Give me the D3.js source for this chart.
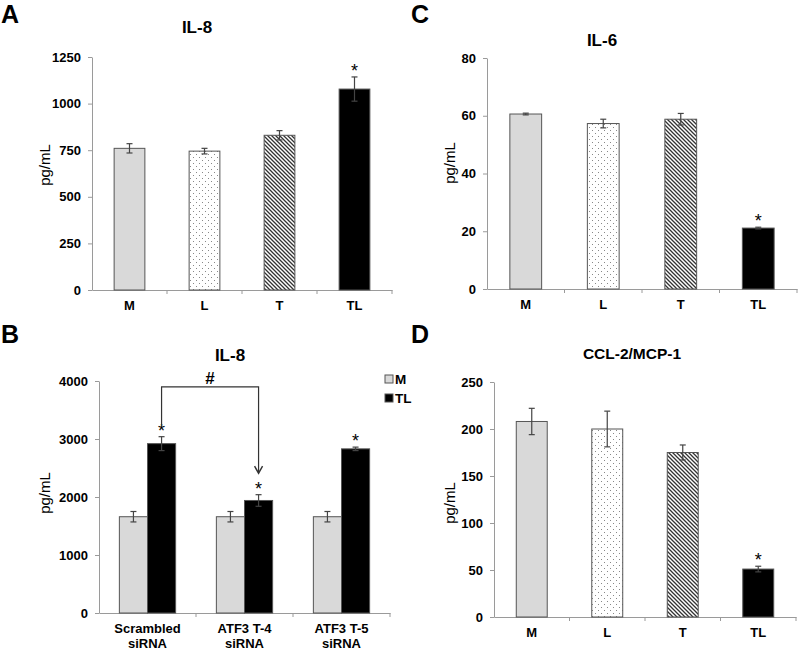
<!DOCTYPE html>
<html><head><meta charset="utf-8">
<script src="https://cdn.jsdelivr.net/npm/d3@7"></script>
<style>
body{margin:0;background:#fff;}
text{font-family:"Liberation Sans",Arial,sans-serif;}
</style></head>
<body><svg id="c" width="800" height="652"></svg>
<script>
// ---- data ----
const groups = ["M","L","T","TL"];
const il8A = [760,745,830,1078];
const il8AErr = [25,15,25,65];
const il8ATicks = [0,250,500,750,1000,1250];

const il6C = [60.6,57.3,58.8,21.1];
const il6CErr = [0.3,1.5,2.0,0.3];
const il6CTicks = [0,20,40,60,80];

const ccl2D = [208,200,175,51];
const ccl2DErr = [14,19,8,3];
const ccl2DTicks = [0,50,100,150,200,250];

const sirnaCats = [["Scrambled","siRNA"],["ATF3 T-4","siRNA"],["ATF3 T-5","siRNA"]];
const seriesB = ["M","TL"];
const bM = [1660,1660,1660];
const bMErr = [90,90,90];
const bTL = [2920,1940,2830];
const bTLErr = [120,100,30];
const il8BTicks = [0,1000,2000,3000,4000];
const bracketB = {top:3900, start:3230, end:2410};

const starsA = [false,false,false,true];
const starsC = [false,false,false,true];
const starsD = [false,false,false,true];
const starsBTL = [true,true,true];

// ---- drawing ----
const svg = d3.select("#c");
const defs = svg.append("defs");
const dots = defs.append("pattern").attr("id","dots").attr("patternUnits","userSpaceOnUse")
  .attr("width",6).attr("height",6);
dots.append("rect").attr("width",6).attr("height",6).attr("fill","#fff");
dots.append("rect").attr("x",1).attr("y",1).attr("width",1).attr("height",1).attr("fill","#888");
dots.append("rect").attr("x",4).attr("y",4).attr("width",1).attr("height",1).attr("fill","#888");
const hatch = defs.append("pattern").attr("id","hatch").attr("patternUnits","userSpaceOnUse")
  .attr("width",4).attr("height",4);
hatch.append("rect").attr("width",4).attr("height",4).attr("fill","#fff");
hatch.append("path").attr("d","M-1,-1 L5,5 M-1,3 L1,5 M3,-1 L5,1").attr("stroke","#333").attr("stroke-width",1.3);
const fills = {M:"#d9d9d9", L:"url(#dots)", T:"url(#hatch)", TL:"#000"};
const AX = "#9a9a9a";
const FS = 13;

function styleYAxis(g){
  g.select(".domain").attr("stroke",AX);
  g.selectAll(".tick line").attr("stroke",AX);
  g.selectAll(".tick text").attr("font-size",FS).attr("font-weight","bold").attr("fill","#000")
   .style("font-family",'"Liberation Sans",Arial,sans-serif');
}

function errBar(g, cx, top, bot){
  g.append("line").attr("x1",cx).attr("x2",cx).attr("y1",top).attr("y2",bot).attr("stroke","#444").attr("stroke-width",1.2);
  g.append("line").attr("x1",cx-3).attr("x2",cx+3).attr("y1",top).attr("y2",top).attr("stroke","#444").attr("stroke-width",1.2);
  g.append("line").attr("x1",cx-3).attr("x2",cx+3).attr("y1",bot).attr("y2",bot).attr("stroke","#444").attr("stroke-width",1.2);
}
function star(g,cx,y){
  g.append("text").attr("x",cx).attr("y",y).attr("text-anchor","middle").attr("font-size",18).text("*");
}

function panel(o){
  const g = svg.append("g");
  const x = d3.scaleBand().domain(groups).range([o.x0,o.x1]).padding(0);
  const y = d3.scaleLinear().domain([0,o.ticks[o.ticks.length-1]]).range([o.y0,o.yTop]);
  g.append("g").attr("transform",`translate(${o.x0},0)`)
    .call(d3.axisLeft(y).tickValues(o.ticks).tickFormat(d3.format("d")).tickSize(4).tickPadding(7).tickSizeOuter(0))
    .call(styleYAxis);
  const xa = g.append("g").attr("transform",`translate(0,${o.y0})`)
    .call(d3.axisBottom(x).tickSize(0).tickPadding(11).tickSizeOuter(0));
  xa.select(".domain").attr("stroke",AX);
  xa.selectAll(".tick text").attr("font-size",FS).attr("font-weight","bold").attr("fill","#000");
  groups.slice(1).concat([null]).forEach(c=>{
    const bx = c? x(c) : o.x1;
    g.append("line").attr("x1",bx).attr("x2",bx).attr("y1",o.y0).attr("y2",o.y0+4).attr("stroke",AX);
  });
  const bw = x.bandwidth()*0.41;
  groups.forEach((c,i)=>{
    const cx = x(c)+x.bandwidth()/2;
    g.append("rect").attr("x",cx-bw/2).attr("y",y(o.vals[i])).attr("width",bw)
      .attr("height",y(0)-y(o.vals[i])).attr("fill",fills[c]).attr("stroke","#555").attr("stroke-width",1);
    const t = y(o.vals[i]+o.err[i]), b = y(o.vals[i]-o.err[i]);
    errBar(g,cx,t,b);
    if(o.stars[i]) star(g,cx,t);
  });
  g.append("text").attr("x",o.tx).attr("y",o.ty).attr("text-anchor","middle").attr("font-size",o.tfs).attr("font-weight","bold").text(o.title);
  g.append("text").attr("transform",`translate(${o.lx},${o.ly}) rotate(-90)`).attr("text-anchor","middle").attr("font-size",15).text("pg/mL");
  g.append("text").attr("x",o.px).attr("y",o.py).attr("font-size",25).attr("font-weight","bold").text(o.letter);
}

panel({x0:92,x1:392,y0:290,yTop:57,ticks:il8ATicks,vals:il8A,err:il8AErr,stars:starsA,
  title:"IL-8",tfs:17,tx:197,ty:33,lx:50,ly:165,letter:"A",px:1,py:23});
panel({x0:487,x1:797,y0:289,yTop:58,ticks:il6CTicks,vals:il6C,err:il6CErr,stars:starsC,
  title:"IL-6",tfs:17,tx:602,ty:46,lx:455,ly:163,letter:"C",px:411,py:23});
panel({x0:494,x1:796,y0:617,yTop:382,ticks:ccl2DTicks,vals:ccl2D,err:ccl2DErr,stars:starsD,
  title:"CCL-2/MCP-1",tfs:15.5,tx:632,ty:359,lx:455,ly:503,letter:"D",px:411,py:343});

// ---- panel B ----
(function(){
  const g = svg.append("g");
  const x0=99,x1=390,yb=613,yt=381;
  const cats = sirnaCats.map(d=>d.join(" "));
  const x = d3.scaleBand().domain(cats).range([x0,x1]).padding(0);
  const xs = d3.scaleBand().domain(seriesB).range([x.bandwidth()*0.21,x.bandwidth()*0.79]).padding(0);
  const y = d3.scaleLinear().domain([0,4000]).range([yb,yt]);
  g.append("g").attr("transform",`translate(${x0},0)`)
    .call(d3.axisLeft(y).tickValues(il8BTicks).tickFormat(d3.format("d")).tickSize(4).tickPadding(7).tickSizeOuter(0))
    .call(styleYAxis);
  const xa = g.append("g").attr("transform",`translate(0,${yb})`)
    .call(d3.axisBottom(x).tickSize(0).tickPadding(11).tickSizeOuter(0));
  xa.select(".domain").attr("stroke",AX);
  xa.selectAll(".tick text").each(function(d,i){
    const t = d3.select(this).text(null).attr("font-size",FS).attr("font-weight","bold").attr("fill","#000");
    sirnaCats[i].forEach((s,k)=>t.append("tspan").attr("x",0).attr("dy",k?"1.15em":"0.71em").text(s));
  });
  cats.slice(1).concat([null]).forEach(c=>{
    const bx = c? x(c) : x1;
    g.append("line").attr("x1",bx).attr("x2",bx).attr("y1",yb).attr("y2",yb+4).attr("stroke",AX);
  });
  const sets = {M:[bM,bMErr],TL:[bTL,bTLErr]};
  cats.forEach((c,i)=>{
    seriesB.forEach(s=>{
      const v = sets[s][0][i], e = sets[s][1][i];
      const bx = x(c)+xs(s);
      g.append("rect").attr("x",bx).attr("y",y(v)).attr("width",xs.bandwidth()).attr("height",y(0)-y(v))
        .attr("fill",fills[s]).attr("stroke","#555").attr("stroke-width",1);
      const cx = bx+xs.bandwidth()/2;
      errBar(g,cx,y(v+e),y(v-e));
      if(s==="TL" && starsBTL[i]) star(g,cx,y(v+e));
    });
  });
  const ax = x(cats[0])+xs("TL")+xs.bandwidth()/2;
  const bx2 = x(cats[1])+xs("TL")+xs.bandwidth()/2;
  g.append("path").attr("d",`M${ax},${y(bracketB.start)} V${y(bracketB.top)} H${bx2} V${y(bracketB.end)}`)
    .attr("fill","none").attr("stroke","#333").attr("stroke-width",1.2);
  const ty = y(bracketB.end);
  g.append("path").attr("d",`M${bx2-4},${ty-7} L${bx2},${ty} L${bx2+4},${ty-7}`).attr("fill","none").attr("stroke","#333").attr("stroke-width",1.4);
  g.append("text").attr("x",(ax+bx2)/2).attr("y",y(bracketB.top)-3).attr("text-anchor","middle").attr("font-size",17).attr("font-weight","bold").text("#");
  seriesB.forEach((s,i)=>{
    const ly = 375 + i*19;
    g.append("rect").attr("x",385).attr("y",ly).attr("width",8).attr("height",8).attr("fill",fills[s]).attr("stroke","#555");
    g.append("text").attr("x",395).attr("y",ly+9).attr("font-size",13.5).attr("font-weight","bold").text(s);
  });
  g.append("text").attr("x",230).attr("y",361).attr("text-anchor","middle").attr("font-size",17).attr("font-weight","bold").text("IL-8");
  g.append("text").attr("transform",`translate(50,493) rotate(-90)`).attr("text-anchor","middle").attr("font-size",15).text("pg/mL");
  g.append("text").attr("x",1).attr("y",343).attr("font-size",25).attr("font-weight","bold").text("B");
})();
</script></body></html>
